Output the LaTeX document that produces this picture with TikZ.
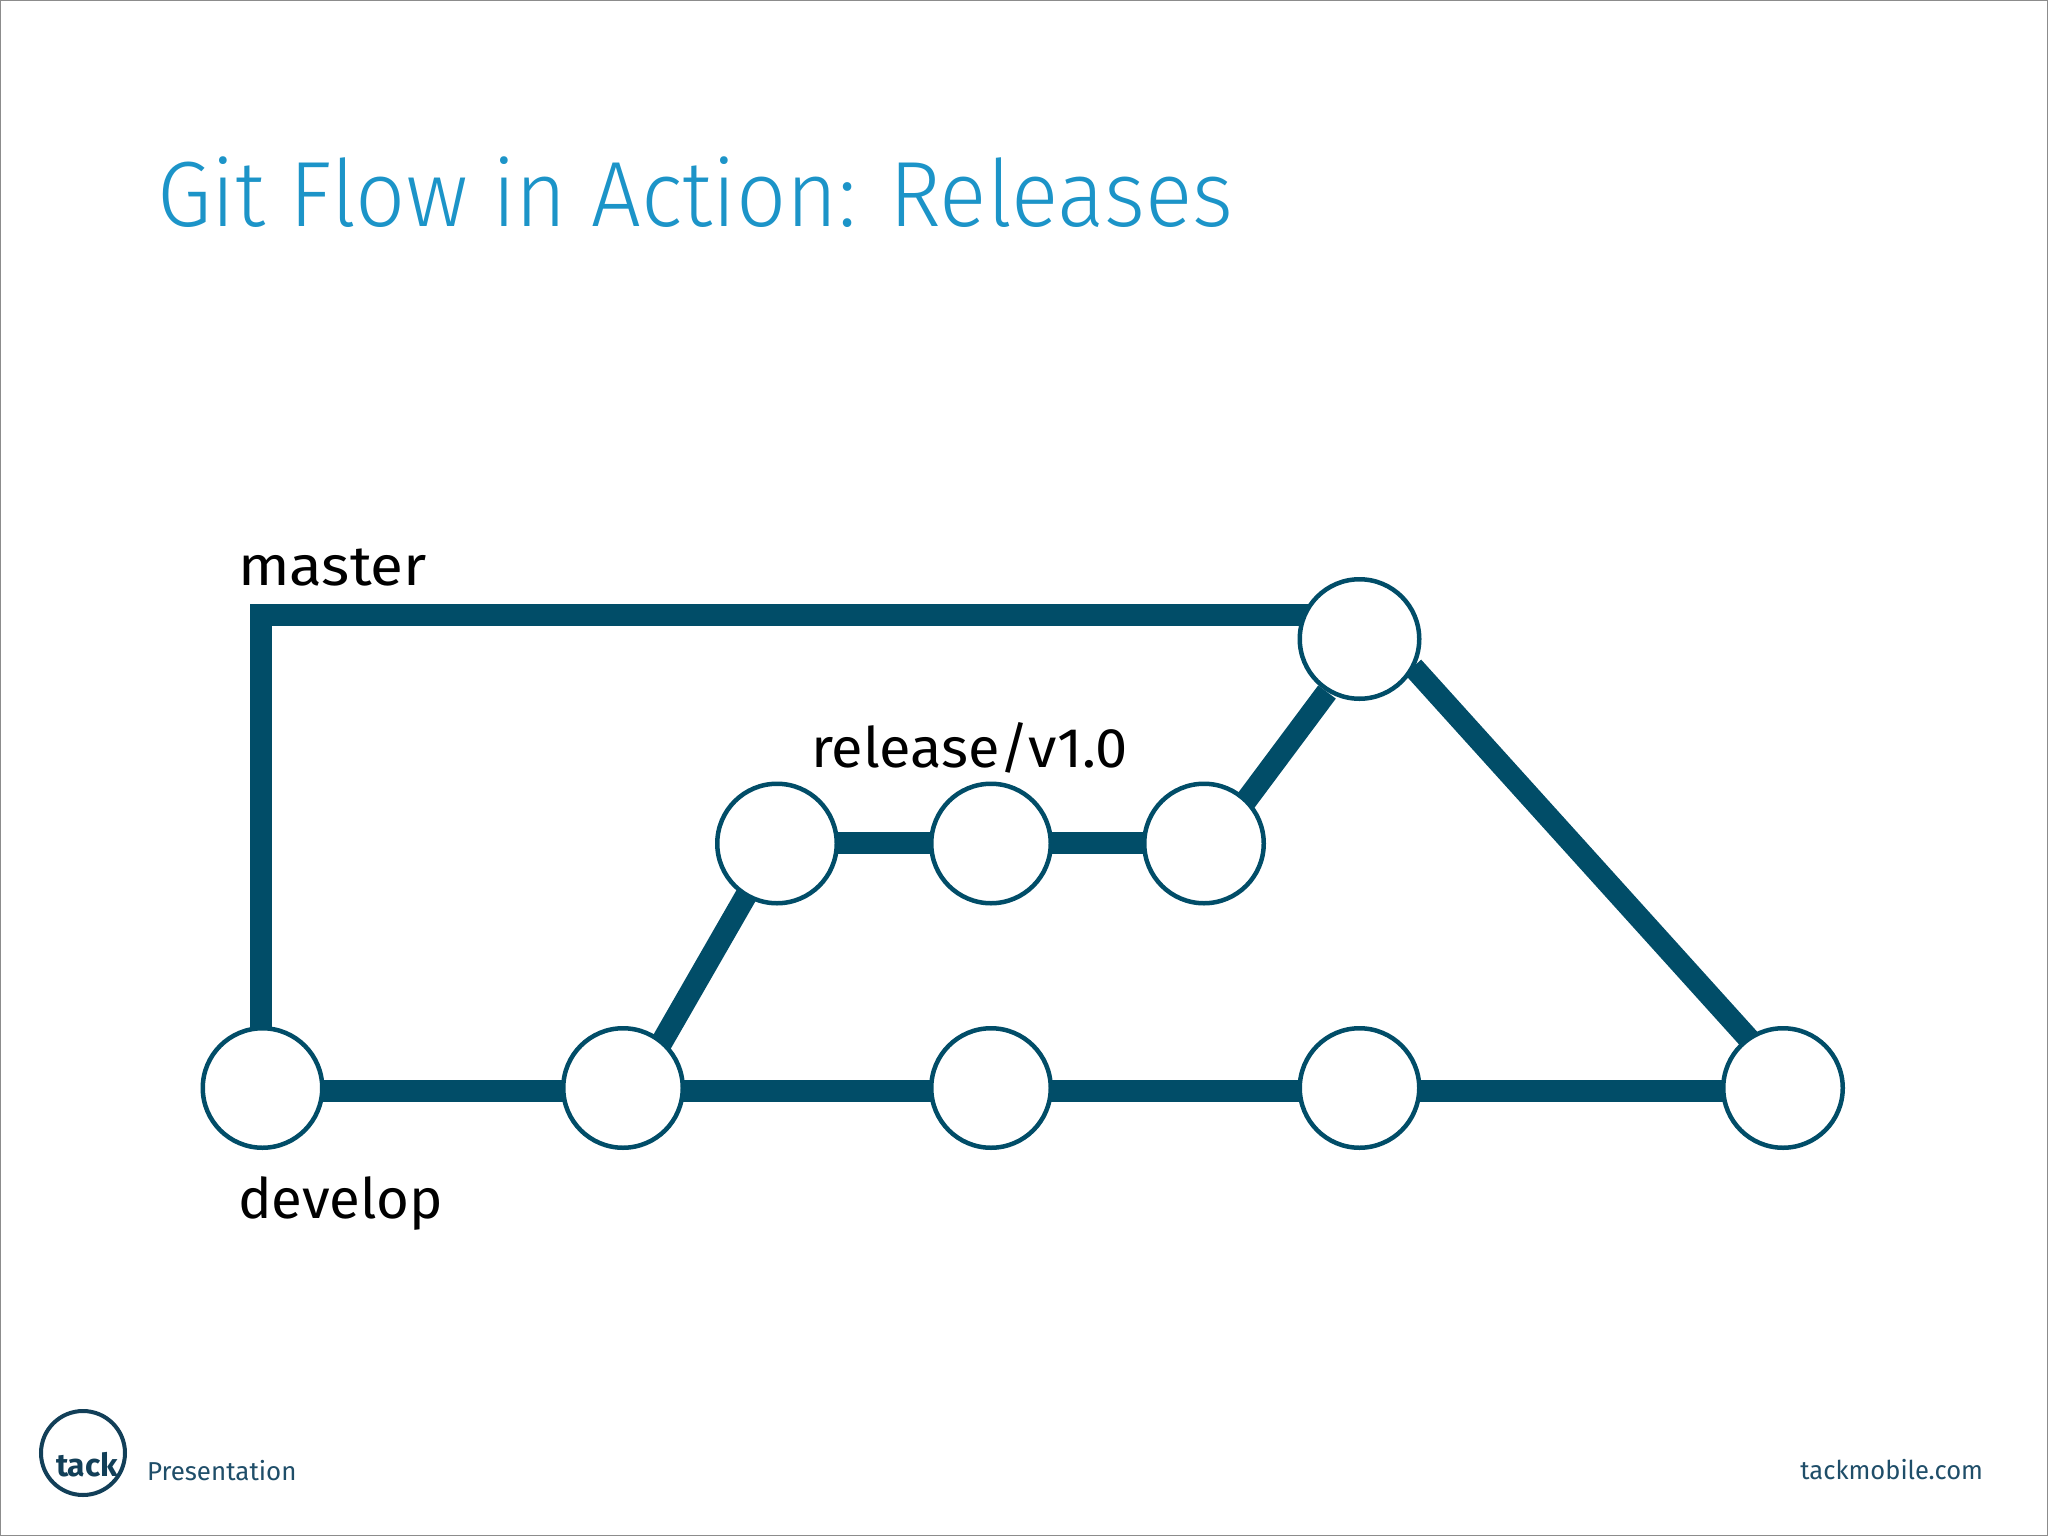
\documentclass[tikz,border=0pt]{standalone}
\usepackage{fontspec}
\setmainfont{Fira Sans}
\newfontfamily\lightf{Fira Sans Light}
\definecolor{teal}{HTML}{014D68}
\definecolor{ttl}{HTML}{1C94C8}
\definecolor{navy}{HTML}{123F58}
\definecolor{foot}{HTML}{1F4E69}
\tikzset{
  x=1bp,y=-1bp,
  commit/.style={circle,draw=teal,line width=4.5bp,fill=white,minimum size=119.5bp,inner sep=0pt,outer sep=0pt},
  branch/.style={draw=teal,line width=22bp,line cap=butt,line join=miter},
  lbl/.style={anchor=base west,inner sep=0pt,outer sep=0pt,text=black},
}
\newcommand{\fs}[1]{\fontsize{#1}{#1}\selectfont}
\begin{document}
\begin{tikzpicture}
\useasboundingbox (0,0) rectangle (2048,1536);
\fill[fill=white] (0,0) rectangle (2048,1536);
\draw[draw=gray!90,line width=2bp] (0,0) rectangle (2048,1536);
\node[lbl,text=ttl] (title) at (157,226) {\lightf\fs{93}\scalebox{0.95}[1]{Git Flow in Action: Releases}};
\node[lbl] (lm) at (238,585) {\fs{56}\scalebox{1.08}[1]{master}};
\node[lbl] (ld) at (238,1218) {\fs{56}\scalebox{1.01}[1]{develop}};
\node[lbl] (lr) at (811,767) {\fs{56}\scalebox{1.035}[1]{release/v1.0}};
% positions
\coordinate (cd1) at (262.5,1088);
\coordinate (cd2) at (623,1088);
\coordinate (cd3) at (991,1088);
\coordinate (cd4) at (1359.5,1088);
\coordinate (cd5) at (1783,1088);
\coordinate (cr1) at (777,843.5);
\coordinate (cr2) at (991,843.5);
\coordinate (cr3) at (1204,843.5);
\coordinate (cm) at (1359.5,639);
\coordinate (corner) at (261,615);
\coordinate (mend) at (1340,615);
\coordinate (dstart) at (261,1050);
\coordinate (rout) at (1245,802);
\coordinate (min) at (1327,692);
\coordinate (mout) at (1413,667);
\coordinate (din) at (1758,1049);
\coordinate (dout) at (655,1054);
\coordinate (rin) at (755,880);
% connectors below the commits
\draw[branch] (dstart) -- (corner) -- (mend);
\draw[branch] ([yshift=-3bp]cd1) -- ([yshift=-3bp]cd5);
\draw[branch] ([yshift=0.5bp]cr1) -- ([yshift=0.5bp]cr3);
\draw[branch] (dout) -- (rin);
\draw[branch] (mout) -- (din);
\node[commit] (d1) at (cd1) {};
\node[commit] (d2) at (cd2) {};
\node[commit] (d3) at (cd3) {};
\node[commit] (d4) at (cd4) {};
\node[commit] (d5) at (cd5) {};
\node[commit] (r1) at (cr1) {};
\node[commit] (r2) at (cr2) {};
\node[commit] (r3) at (cr3) {};
\draw[branch] (rout) -- (min);
\node[commit] (m) at (cm) {};
% footer
\node[circle,draw=navy,line width=4bp,minimum size=84bp,inner sep=0pt] (logo) at (83,1453) {};
\node[lbl,text=navy] (tack) at (56,1476) {\fs{32}\bfseries tack};
\node[lbl,text=foot] (pres) at (147,1480) {\fs{26}Presentation};
\node[lbl,text=foot,anchor=base east] (url) at (1983,1479) {\fs{26}\scalebox{0.985}[1]{tackmobile.com}};
\end{tikzpicture}
\end{document}
